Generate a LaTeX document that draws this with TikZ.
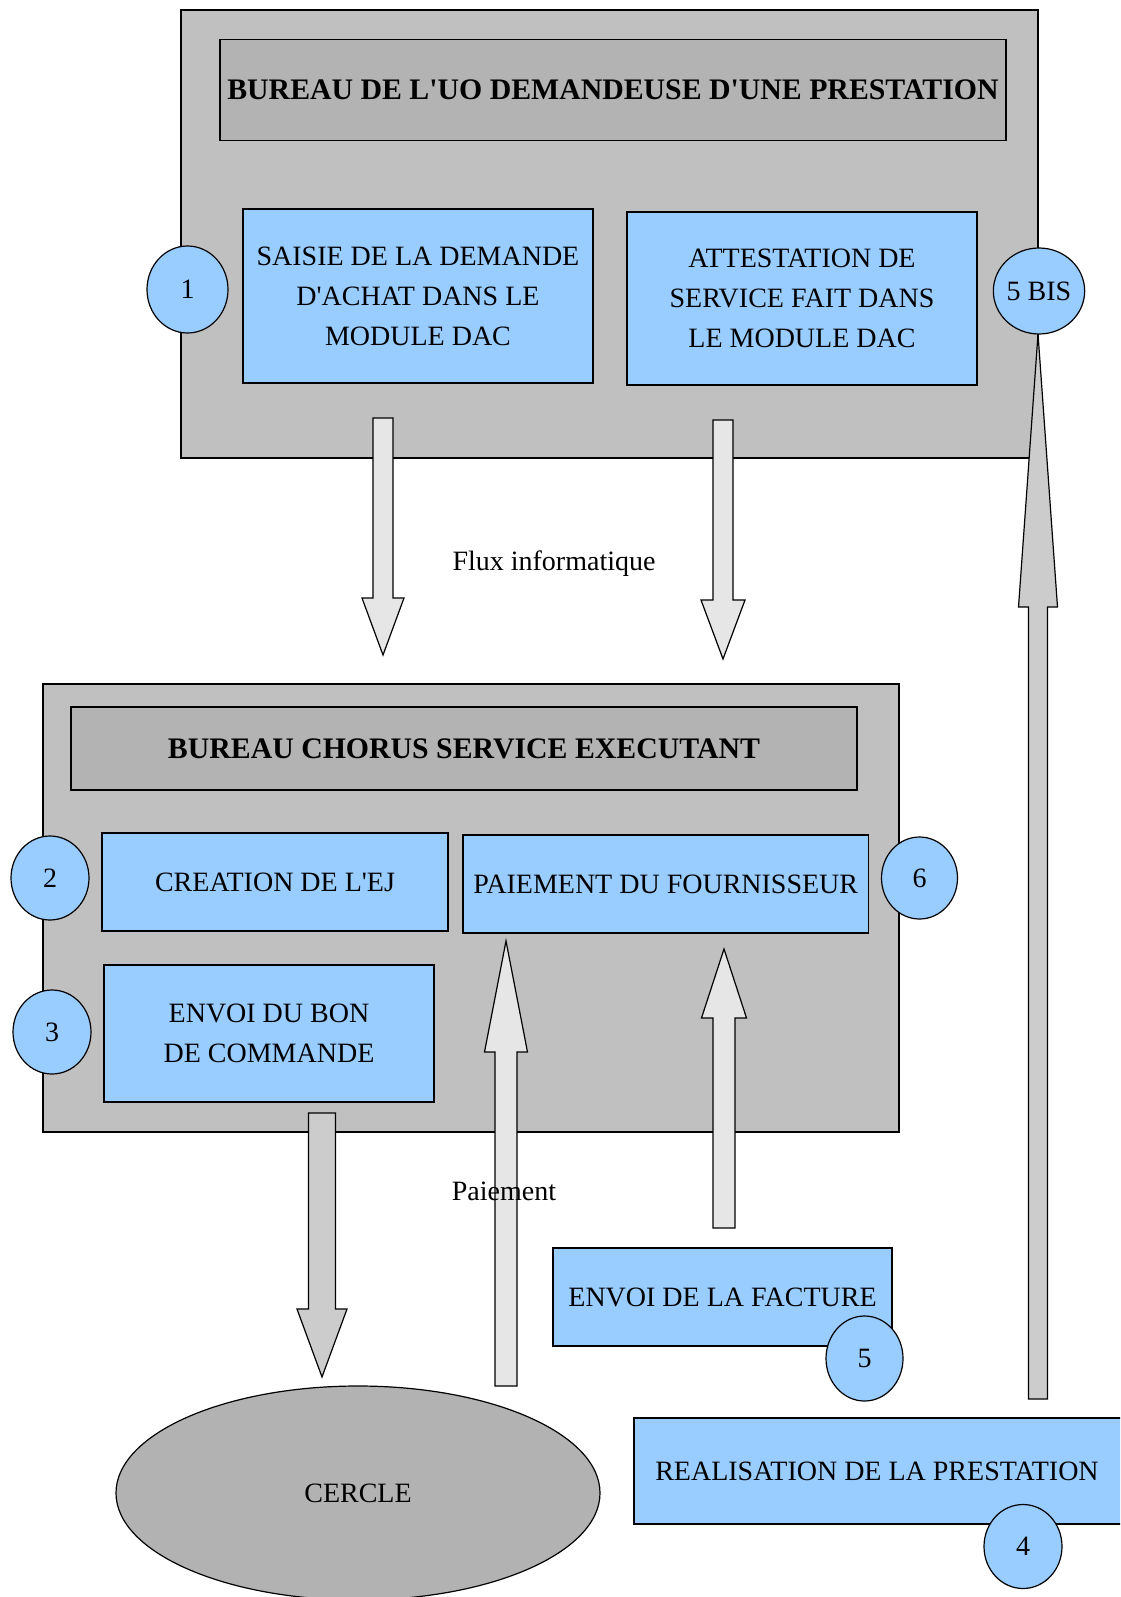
\documentclass[tikz,border=0pt]{standalone}
\usepackage{fontspec}
\setmainfont{Liberation Serif}
\usetikzlibrary{shapes.geometric}
\definecolor{skyb}{HTML}{99CCFF}
\definecolor{panelgrey}{HTML}{C0C0C0}
\definecolor{headgrey}{HTML}{B3B3B3}
\definecolor{arrlight}{HTML}{E6E6E6}
\definecolor{arrmid}{HTML}{CCCCCC}
\definecolor{ovalgrey}{HTML}{B2B2B2}
\newcommand{\ap}{\textquotesingle}
% name, fill, x, ytail, ytip, shaft half width, head half width, y of head base
\newcommand{\blkarr}[8]{%
  \coordinate (#1-tail) at (#3,#4);
  \coordinate (#1-tip) at (#3,#5);
  \draw[blockarr, fill=#2] ({#3-#6},#4) -- ({#3-#6},#8) -- ({#3-#7},#8) -- (#1-tip)
     -- ({#3+#7},#8) -- ({#3+#6},#8) -- ({#3+#6},#4) -- cycle;}
\begin{document}
\begin{tikzpicture}[x=1pt,y=-1pt,line width=1.2pt,
  every node/.style={font=\fontsize{28}{40}\selectfont},
  panelbox/.style={draw, fill=panelgrey, inner sep=0pt},
  titlebox/.style={draw, fill=headgrey, inner sep=0pt, font=\fontsize{29.8}{40}\selectfont\bfseries},
  bluebox/.style={draw, fill=skyb, inner sep=0pt, align=center},
  numdisc/.style={ellipse, draw, fill=skyb, inner sep=0pt},
  blockarr/.style={draw, line join=miter},
  plainlabel/.style={inner sep=0pt}]
\clip (0,0) rectangle (1120,1597);
\fill[white] (0,0) rectangle (1120,1597);

% top panel
\node[panelbox, minimum width=857pt, minimum height=448pt] (p1) at (609.5,234) {};
\node[titlebox, minimum width=786pt, minimum height=101.5pt] (t1) at (613,90) {BUREAU DE L\ap UO DEMANDEUSE D\ap UNE PRESTATION};
\node[bluebox, minimum width=350pt, minimum height=174pt] (saisie) at (418,296) {SAISIE DE LA DEMANDE\\D\ap ACHAT DANS LE\\MODULE DAC};
\node[bluebox, minimum width=350pt, minimum height=173pt] (attest) at (802,298.5) {ATTESTATION DE\\SERVICE FAIT DANS\\LE MODULE DAC};

% arrows from the top panel
\blkarr{a1}{arrlight}{383}{418}{655}{10}{21}{598}
\blkarr{a2}{arrlight}{723}{420}{659}{10}{22}{600}
\blkarr{a6}{arrmid}{1038}{1399}{334}{9.5}{19.5}{607}

\node[numdisc, minimum width=81pt, minimum height=87pt] (n1) at (187.5,289.5) {1};
\node[numdisc, minimum width=78pt, minimum height=86pt] (n5b) at (1039,291) {5 BIS};

\node[plainlabel] (flux) at (554,564) {Flux informatique};

% second panel
\node[panelbox, minimum width=856pt, minimum height=448pt] (p2) at (471,908) {};
\node[titlebox, minimum width=786pt, minimum height=83pt] (t2) at (464,748.5) {BUREAU CHORUS SERVICE EXECUTANT};
\node[bluebox, minimum width=346pt, minimum height=98pt] (ej) at (275,882) {CREATION DE L\ap EJ};
\node[bluebox, minimum width=330pt, minimum height=137pt] (bon) at (269,1033.5) {ENVOI DU BON\\DE COMMANDE};
\node[bluebox, minimum width=405.5pt, minimum height=98pt] (paie) at (665.75,884) {PAIEMENT DU FOURNISSEUR};
\node[numdisc, minimum width=78pt, minimum height=84pt] (n2) at (50,878) {2};
\node[numdisc, minimum width=78pt, minimum height=84pt] (n3) at (52,1032) {3};
\node[numdisc, minimum width=76pt, minimum height=82pt] (n6) at (919.5,878) {6};

\blkarr{a3}{arrmid}{322}{1113}{1377}{13.5}{25}{1309}
\blkarr{a4}{arrlight}{506}{1386}{941}{11}{21.5}{1052}
\blkarr{a5}{arrlight}{724}{1228}{949}{11}{22.5}{1018}

\node[plainlabel] (paiement) at (504,1191) {Paiement};

% bottom
\node[ellipse, draw, fill=ovalgrey, minimum width=484pt, minimum height=214pt, inner sep=0pt] (cercle) at (358,1493) {};
\node[plainlabel] at (cercle.center) {CERCLE};
\node[bluebox, minimum width=339pt, minimum height=98pt] (facture) at (722.5,1297) {ENVOI DE LA FACTURE};
\node[numdisc, minimum width=77pt, minimum height=85pt] (n5) at (864.5,1358.5) {5};
\node[bluebox, minimum width=491pt, minimum height=106pt] (real) at (879.5,1471) {};
\node[plainlabel] at (877,1471) {REALISATION DE LA PRESTATION};
\node[numdisc, minimum width=78pt, minimum height=84pt] (n4) at (1023,1546.5) {4};
\end{tikzpicture}
\end{document}
